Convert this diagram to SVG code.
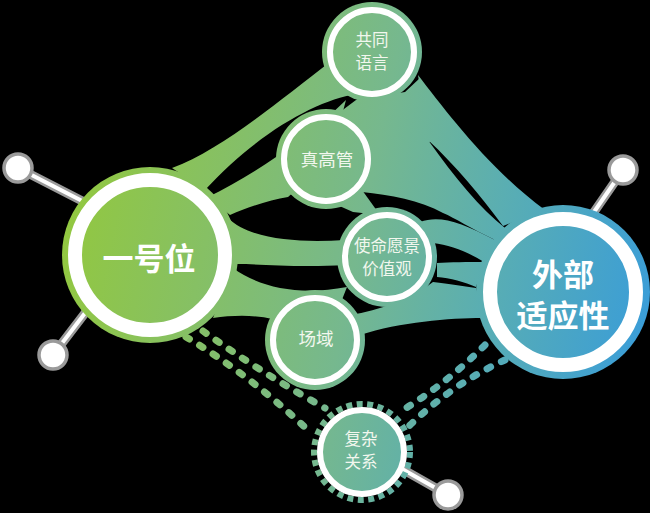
<svg xmlns="http://www.w3.org/2000/svg" width="650" height="513" viewBox="0 0 650 513">
<defs>
<linearGradient id="g" gradientUnits="userSpaceOnUse" x1="60" y1="200" x2="650" y2="320">
<stop offset="0" stop-color="#93c83e"/>
<stop offset="0.25" stop-color="#86c064"/>
<stop offset="0.5" stop-color="#76b88e"/>
<stop offset="0.72" stop-color="#5aaeb2"/>
<stop offset="1" stop-color="#3a9dd8"/>
</linearGradient>
<style>
.band{fill:url(#g)}
.halo{fill:url(#g)}
.ring{fill:url(#g);stroke:#fff}
.dots{fill:none;stroke:url(#g);stroke-width:7;stroke-linecap:round;stroke-dasharray:4 12}
.stemo{stroke:#9a9a9a;stroke-width:9;stroke-linecap:round}
.stemi{stroke:#fff;stroke-width:4;stroke-linecap:round}
.ball{fill:#fff;stroke:#9a9a9a;stroke-width:3.5}
.big{font-family:"Noto Sans CJK SC","Noto Sans",sans-serif;font-weight:700;font-size:31px;fill:#fff;text-anchor:middle}
.sm{font-family:"Noto Sans CJK SC","Noto Sans",sans-serif;font-weight:400;font-size:16.5px;fill:#f2f7ee;text-anchor:middle}
</style>
</defs>
<rect width="650" height="513" fill="#000"/>
<g id="pins">
<line class="stemo" x1="18" y1="168" x2="90" y2="205"/><line class="stemi" x1="18" y1="168" x2="90" y2="205"/><circle class="ball" cx="18" cy="168" r="14"/>
<line class="stemo" x1="53" y1="355" x2="95" y2="300"/><line class="stemi" x1="53" y1="355" x2="95" y2="300"/><circle class="ball" cx="53" cy="355" r="14"/>
<line class="stemo" x1="623" y1="170" x2="585" y2="225"/><line class="stemi" x1="623" y1="170" x2="585" y2="225"/><circle class="ball" cx="623" cy="170" r="14"/>
<line class="stemo" x1="448" y1="495" x2="395" y2="465"/><line class="stemi" x1="448" y1="495" x2="395" y2="465"/><circle class="ball" cx="448" cy="495" r="14"/>
</g>
<g id="connectors">
<path class="band" d="M172,168 C222,150 280,100 330,62 L356,94 C318,100 258,132 205,190 Z"/>
<path class="band" d="M208,197 C250,176 300,145 346,100 L330,160 L288,197 C270,200 248,207 230,215 Z"/>
<path class="band" d="M228,218 C250,240 300,243 345,240 L345,265 C300,268 260,264 237,264 Z"/>
<path class="band" d="M233,268 C260,288 300,296 347,287 L330,330 L290,325 C270,315 240,314 213,318 Z"/>
<path class="band" d="M326,200 L362,190 L380,215 L353,212 Z"/>
<path class="band" d="M356,100 L405,92 L420,78 L430,142 L372,152 L340,112 Z"/>
<path class="band" d="M418,75 C445,110 490,170 545,210 L503,226 C480,195 455,165 428,140 Z"/>
<path class="band" d="M372,150 L428,140 C455,178 480,208 505,228 L495,240 C470,228 455,218 443,213 C420,200 390,195 362,192 Z"/>
<path class="band" d="M420,222 C440,215 460,222 495,240 L484,262 C468,252 450,245 433,243 Z"/>
<path class="band" d="M437,263 C450,262 468,262 484,262 L476,287 C465,282 450,278 437,277 Z"/>
<path class="band" d="M433,282 C450,284 462,286 476,288 L482,318 C450,318 400,322 360,335 L350,315 C380,310 410,300 433,282 Z"/>
<path class="dots" d="M203,331 Q260,372 325,408"/>
<path class="dots" d="M186,337 Q250,375 310,432"/>
<path class="dots" d="M485,345 Q445,385 398,413"/>
<path class="dots" d="M505,360 Q450,385 405,430"/>
</g>
<g id="n-yihaowei">
<circle class="halo" cx="150" cy="255" r="88"/>
<circle class="ring" cx="150" cy="255" r="75" stroke-width="14"/>
<text class="big" x="149" y="270">一号位</text>
</g>
<g id="n-waibu">
<circle class="halo" cx="563" cy="292" r="87"/>
<circle class="ring" cx="563" cy="292" r="73" stroke-width="14"/>
<text class="big" x="563" y="286">外部</text>
<text class="big" x="563" y="327">适应性</text>
</g>
<g id="n-gongtong">
<circle class="halo" cx="372" cy="52" r="50"/>
<circle class="ring" cx="372" cy="52" r="42" stroke-width="6"/>
<text class="sm" x="372" y="46">共同</text>
<text class="sm" x="372" y="69">语言</text>
</g>
<g id="n-zhengao">
<circle class="halo" cx="326" cy="159" r="50"/>
<circle class="ring" cx="326" cy="159" r="42" stroke-width="6"/>
<text class="sm" x="327" y="166" style="font-size:17.5px">真高管</text>
</g>
<g id="n-shiming">
<circle class="halo" cx="387" cy="257" r="50"/>
<circle class="ring" cx="387" cy="257" r="42" stroke-width="6"/>
<text class="sm" x="387" y="252">使命愿景</text>
<text class="sm" x="387" y="275">价值观</text>
</g>
<g id="n-changyu">
<circle class="halo" cx="315" cy="340" r="50"/>
<circle class="ring" cx="315" cy="340" r="42" stroke-width="6"/>
<text class="sm" x="316" y="345" style="font-size:17.5px">场域</text>
</g>
<g id="n-fuza">
<circle cx="362" cy="452" r="48" fill="none" stroke="url(#g)" stroke-width="6" stroke-dasharray="6 4.5"/>
<circle class="ring" cx="362" cy="452" r="42" stroke-width="6"/>
<text class="sm" x="361" y="445">复杂</text>
<text class="sm" x="361" y="468">关系</text>
</g>
</svg>
